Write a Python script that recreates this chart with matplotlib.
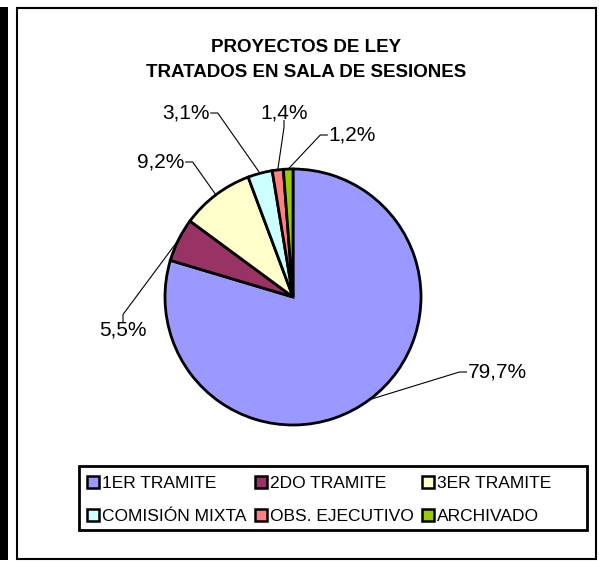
import numpy as np
import matplotlib
matplotlib.use("Agg")
import matplotlib.pyplot as plt
from matplotlib.patches import Rectangle, Patch

plt.rcParams['font.family'] = ['Liberation Sans', 'DejaVu Sans']

# data
categories = ['1ER TRAMITE', '2DO TRAMITE', '3ER TRAMITE',
              'COMISIÓN MIXTA', 'OBS. EJECUTIVO', 'ARCHIVADO']
values = [79.7, 5.5, 9.2, 3.1, 1.4, 1.2]
colors = ['#9999FF', '#993366', '#FFFFCC', '#CCFFFF', '#FF8080', '#99CC00']
title_lines = ['PROYECTOS DE LEY', 'TRATADOS EN SALA DE SESIONES']

# layout (pixels)
W, H = 599, 561
cx, cy, R = 293, 297, 128
label_pos = [(497, 372), (123, 330), (161, 162), (186, 113), (284, 113), (352, 135)]
leader_side = ['left', 'top', 'right', 'right', 'bottom', 'left']
stub = 7

fig = plt.figure(figsize=(W / 100, H / 100), dpi=100)

#background layer in pixel coords
bg = fig.add_axes([0, 0, 1, 1], zorder=0)
bg.set_xlim(0, W)
bg.set_ylim(H, 0)
bg.axis('off')
bg.add_patch(Rectangle((0, 7), 8, 553, facecolor='black', edgecolor='none'))
bg.add_patch(Rectangle((17, 8), 579, 551, facecolor='white', edgecolor='black', lw=1.5))
bg.add_patch(Rectangle((79, 466), 508, 64, facecolor='white', edgecolor='black', lw=2, zorder=3))

for i, t in enumerate(title_lines):
    bg.text(306, 47 + 25 * i, t, ha='center', va='center', fontsize=13.5, fontweight='bold')

#pie
ax = fig.add_axes([0, 0, 1, 1], zorder=1)
wedges, _ = ax.pie(values, colors=colors, startangle=90, counterclock=False,
                   radius=1, wedgeprops=dict(edgecolor='black', linewidth=2.0))
ax.set_xlim(-cx / R, (W - cx) / R)
ax.set_ylim(-(H - cy) / R, cy / R)
ax.set_aspect('auto')
ax.axis('off')

#percent labels
texts = []
for v, (px, py) in zip(values, label_pos):
    texts.append(bg.text(px, py, f"{v:.1f}".replace('.', ',') + '%',
                         ha='center', va='center', fontsize=15))

#leader lines: short stub from the label, then straight to the slice edge
fig.canvas.draw()
renderer = fig.canvas.get_renderer()
inv = bg.transData.inverted()
for t, w, side in zip(texts, wedges, leader_side):
    bb = t.get_window_extent(renderer)
    (x0, y1), (x1, y0) = inv.transform([(bb.x0, bb.y0), (bb.x1, bb.y1)])
    xm, ym = (x0 + x1) / 2, (y0 + y1) / 2
    if side == 'left':
        p0 = (x0 - 1, ym); p1 = (x0 - 1 - stub, ym)
    elif side == 'right':
        p0 = (x1 + 1, ym); p1 = (x1 + 1 + stub, ym)
    elif side == 'top':
        p0 = (xm, y0 + 1); p1 = (xm, y0 + 1 - stub)
    else:
        p0 = (xm, y1 - 2); p1 = (xm, y1 - 2 + stub)
    ang = np.deg2rad((w.theta1 + w.theta2) / 2)
    p2 = (cx + R * np.cos(ang), cy - R * np.sin(ang))
    bg.plot([p0[0], p1[0], p2[0]], [p0[1], p1[1], p2[1]], color='black', lw=0.8)

#legend, filled column-wise so reorder to read row-wise
handles = [Patch(facecolor=c, edgecolor='black', linewidth=1.8) for c in colors]
order = [0, 3, 1, 4, 2, 5]
leg = fig.legend([handles[i] for i in order], [categories[i] for i in order],
                 ncol=3, loc='upper left', bbox_to_anchor=(87, 476),
                 bbox_transform=bg.transData, frameon=False, fontsize=12.5,
                 handlelength=0.7, handleheight=0.7, handletextpad=0.15,
                 columnspacing=0.5, labelspacing=1.0, borderpad=0, borderaxespad=0)
leg.set_zorder(5)

fig.savefig('out.png', dpi=100)
